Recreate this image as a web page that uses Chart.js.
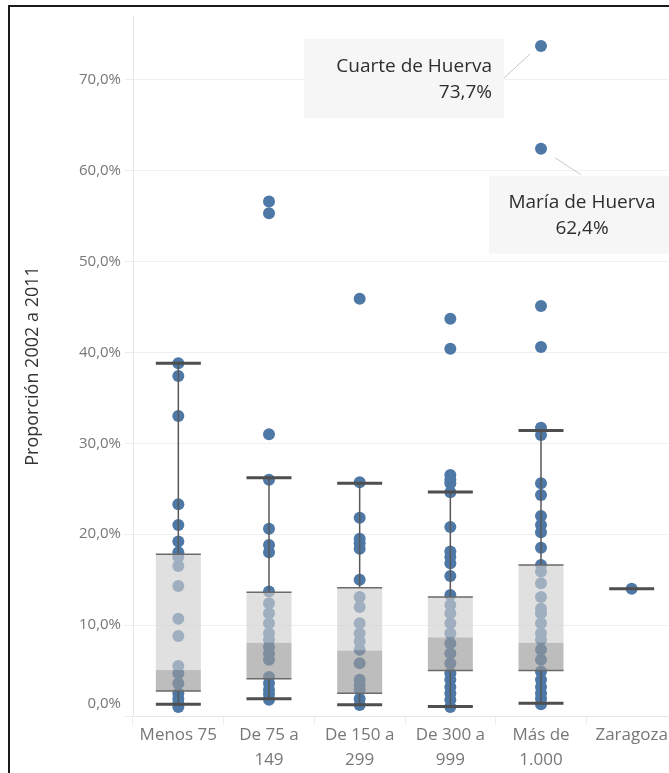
<!DOCTYPE html>
<html>
<head>
<meta charset="utf-8">
<script src="https://cdn.jsdelivr.net/npm/chart.js@4"></script>
<style>
  html, body { margin: 0; padding: 0; background: #fff; overflow: hidden; }
  #wrap { position: relative; width: 683px; height: 773px; }
  #frame { position: absolute; left: 8px; top: 5px; width: 700px; height: 800px;
           border-left: 2px solid #1a1a1a; border-top: 2px solid #1a1a1a; pointer-events: none; }
  canvas { position: absolute; left: 0; top: 0; }
</style>
</head>
<body>
<div id="wrap">
  <canvas id="chart" width="683" height="773"></canvas>
  <div id="frame"></div>
</div>
<script>
// categorias (eje X), cada una en sus lineas
const categories = [['Menos 75'], ['De 75 a', '149'], ['De 150 a', '299'], ['De 300 a', '999'], ['Más de', '1.000'], ['Zaragoza']];

// valores de cada municipio por tramo (%)
const menos75 = [38.8, 37.4, 33.0, 23.3, 21.0, 19.2, 18.0, 17.5, 16.5, 14.3, 10.7, 8.8, 5.5, 4.7, 3.6, 2.5, 1.9, 1.4, 1.0];
const de75a149 = [56.6, 55.3, 31.0, 26.0, 20.6, 18.8, 18.0, 13.7, 12.4, 11.3, 10.2, 9.1, 8.4, 7.6, 6.9, 6.2, 4.3, 3.6, 2.9, 2.4, 1.8];
const de150a299 = [45.9, 25.7, 21.8, 19.5, 19.0, 18.4, 15.0, 13.1, 12.0, 10.2, 9.1, 8.2, 7.3, 5.8, 4.0, 3.4, 2.9, 1.9, 1.2];
const de300a999 = [43.7, 40.4, 26.5, 26.0, 25.6, 24.6, 20.8, 18.1, 17.5, 16.8, 15.4, 13.3, 12.2, 11.3, 10.2, 9.1, 8.0, 6.9, 5.8, 4.7, 4.0, 3.2, 2.5, 1.8, 1.0];
const masDe1000 = [73.7, 62.4, 45.1, 40.6, 31.7, 30.9, 25.6, 24.3, 22.0, 21.0, 20.2, 18.5, 16.6, 15.9, 14.6, 13.1, 11.8, 11.3, 10.2, 9.1, 8.4, 7.3, 6.2, 4.9, 4.0, 3.2, 2.5, 1.9, 1.3];
const zaragoza = [14.0];

// cajas
const q1 = [2.75, 4.1, 2.5, 5.0, 5.0, 14.0];
const medianas = [5.05, 8.05, 7.2, 8.65, 8.05, 14.0];
const q3 = [17.8, 13.6, 14.1, 13.1, 16.6, 14.0];
const bigoteBajo = [1.3, 1.9, 1.25, 1.05, 1.4, 14.0];
const bigoteAlto = [38.8, 26.2, 25.6, 24.65, 31.4, 14.0];

// etiquetas destacadas
const destacados = ['Cuarte de Huerva', 'María de Huerva'];
const destacadosValor = [73.7, 62.4];
const destacadosTramo = [4, 4];

// ticks del eje Y
const yTicks = [0, 10, 20, 30, 40, 50, 60, 70];

const series = [menos75, de75a149, de150a299, de300a999, masDe1000, zaragoza];
const claves = categories.map(c => c.join(' '));

function pct(v) {
  return v.toFixed(1).replace('.', ',') + '%';
}

const puntos = [];
series.forEach(function (vals, i) {
  vals.forEach(function (v) {
    puntos.push({ x: claves[i], y: v });
  });
});

// dibuja cajas y bigotes encima de los puntos
const boxPlugin = {
  id: 'boxes',
  afterDatasetsDraw(chart) {
    const ctx = chart.ctx;
    const xs = chart.scales.x;
    const ys = chart.scales.y;
    const half = 22.5;
    ctx.save();
    for (let i = 0; i < categories.length; i++) {
      const cx = xs.getPixelForValue(i);
      const yQ1 = ys.getPixelForValue(q1[i]);
      const yMed = ys.getPixelForValue(medianas[i]);
      const yQ3 = ys.getPixelForValue(q3[i]);
      const yLo = ys.getPixelForValue(bigoteBajo[i]);
      const yHi = ys.getPixelForValue(bigoteAlto[i]);

      ctx.fillStyle = 'rgba(206,206,206,0.64)';
      ctx.fillRect(cx - half, yQ3, half * 2, yMed - yQ3);
      ctx.fillStyle = 'rgba(153,153,153,0.65)';
      ctx.fillRect(cx - half, yMed, half * 2, yQ1 - yMed);

      // bigotes
      ctx.strokeStyle = '#585858';
      ctx.lineWidth = 1.5;
      ctx.beginPath();
      ctx.moveTo(cx, yQ3); ctx.lineTo(cx, yHi);
      ctx.moveTo(cx, yQ1); ctx.lineTo(cx, yLo);
      ctx.stroke();

      // bordes de la caja
      if (q3[i] !== q1[i]) {
        ctx.strokeStyle = '#6a6a6a';
        ctx.lineWidth = 1.5;
        ctx.beginPath();
        ctx.moveTo(cx - half, yQ3); ctx.lineTo(cx + half, yQ3);
        ctx.moveTo(cx - half, yQ1); ctx.lineTo(cx + half, yQ1);
        ctx.stroke();
      }

      // topes
      ctx.strokeStyle = '#4f4f4f';
      ctx.lineWidth = 3;
      ctx.beginPath();
      ctx.moveTo(cx - half, yHi); ctx.lineTo(cx + half, yHi);
      ctx.moveTo(cx - half, yLo); ctx.lineTo(cx + half, yLo);
      ctx.stroke();
    }
    ctx.restore();
  }
};

// etiquetas de Cuarte y María de Huerva
const notePlugin = {
  id: 'notes',
  afterDraw(chart) {
    const ctx = chart.ctx;
    const xs = chart.scales.x;
    const ys = chart.scales.y;
    ctx.save();
    ctx.font = '19px "Open Sans"';
    ctx.textBaseline = 'middle';
    destacados.forEach(function (name, k) {
      const px = xs.getPixelForValue(destacadosTramo[k]);
      const py = ys.getPixelForValue(destacadosValor[k]);
      ctx.strokeStyle = '#c8c8c8';
      ctx.lineWidth = 1;
      if (k === 0) {
        ctx.fillStyle = '#f6f6f6';
        ctx.fillRect(px - 237, py - 7, 200, 79);
        ctx.beginPath();
        ctx.moveTo(px - 37, py + 32); ctx.lineTo(px - 11, py + 8);
        ctx.stroke();
        ctx.fillStyle = '#2e2e2e';
        ctx.textAlign = 'right';
        ctx.fillText(name, px - 49, py + 21);
        ctx.fillText(pct(destacadosValor[k]), px - 49, py + 47);
      } else {
        ctx.fillStyle = '#f6f6f6';
        ctx.fillRect(px - 52, py + 27, 200, 78);
        ctx.beginPath();
        ctx.moveTo(px + 14, py + 9); ctx.lineTo(px + 40, py + 26);
        ctx.stroke();
        ctx.fillStyle = '#2e2e2e';
        ctx.textAlign = 'center';
        ctx.fillText(name, px + 41, py + 54);
        ctx.fillText(pct(destacadosValor[k]), px + 41, py + 80);
      }
    });
    ctx.restore();
  }
};

new Chart(document.getElementById('chart'), {
  type: 'scatter',
  data: {
    labels: claves,
    datasets: [{
      data: puntos,
      backgroundColor: '#4e79a7',
      borderWidth: 0,
      pointRadius: 6,
      pointHoverRadius: 6
    }]
  },
  options: {
    responsive: false,
    animation: false,
    layout: { padding: { top: 15, right: 0, bottom: 0, left: 0 } },
    plugins: {
      legend: { display: false },
      tooltip: { enabled: false }
    },
    scales: {
      x: {
        type: 'category',
        labels: claves,
        offset: true,
        grid: { display: true, drawOnChartArea: false, tickLength: 9, color: '#ececec', offset: true },
        border: { display: true, color: '#e6e6e6' },
        ticks: {
          color: '#777',
          padding: -2,
          font: { family: 'Open Sans', size: 17, lineHeight: 1.45 },
          maxRotation: 0,
          autoSkip: false,
          callback(v, i) { return categories[i]; }
        },
        afterFit(s) { s.height = 57; s.paddingLeft = 0; s.paddingRight = 0; }
      },
      y: {
        min: 0,
        max: 77,
        afterBuildTicks(s) { s.ticks = yTicks.map(v => ({ value: v })); },
        grid: { color: '#f0f0f0', tickLength: 8, tickColor: '#ececec' },
        border: { display: true, color: '#e6e6e6' },
        ticks: {
          color: '#777',
          padding: 4,
          font: { family: 'Open Sans', size: 15, lineHeight: 1.6 },
          callback(v) { return v === 0 ? [pct(v), ''] : pct(v); }
        },
        title: {
          display: true,
          text: 'Proporción 2002 a 2011',
          color: '#333',
          font: { family: 'Open Sans', size: 18 },
          padding: { top: 22, bottom: 0 }
        },
        afterFit(s) { s.width = 133; }
      }
    }
  },
  plugins: [boxPlugin, notePlugin]
});
</script>
</body>
</html>
